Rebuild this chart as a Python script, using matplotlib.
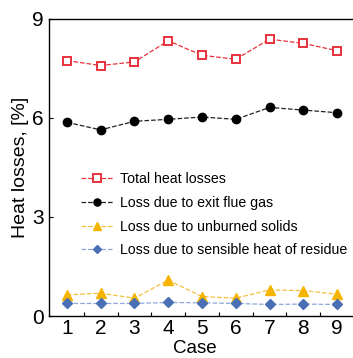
import numpy as np
import matplotlib
matplotlib.use("Agg")
import matplotlib.pyplot as plt
from matplotlib.ticker import FixedLocator

plt.rcParams['font.family'] = ['Liberation Sans', 'DejaVu Sans']

cases = [1, 2, 3, 4, 5, 6, 7, 8, 9]
total_loss = [7.74, 7.59, 7.70, 8.34, 7.90, 7.78, 8.39, 8.26, 8.04]
flue_gas_loss = [5.87, 5.64, 5.90, 5.96, 6.03, 5.96, 6.32, 6.24, 6.16]
unburned_loss = [0.64, 0.69, 0.54, 1.09, 0.59, 0.54, 0.79, 0.77, 0.66]
residue_loss = [0.38, 0.38, 0.38, 0.41, 0.40, 0.38, 0.35, 0.36, 0.35]

labels = ["Total heat losses", "Loss due to exit flue gas",
          "Loss due to unburned solids", "Loss due to sensible heat of residue"]

fig = plt.figure(figsize=(3.53, 3.58), dpi=100)
ax = fig.add_axes([49 / 353, 1 - 316 / 358, 1 - 49 / 353, (316 - 19) / 358])

ax.plot(cases, total_loss, ls='--', lw=0.9, color='#e8323c', marker='s', ms=6,
        mfc='white', mec='#e8323c', mew=1.4, label=labels[0])
ax.plot(cases, flue_gas_loss, ls='--', lw=0.9, color='#222222', marker='o', ms=6,
        mfc='black', mec='black', label=labels[1])
ax.plot(cases, unburned_loss, ls='--', lw=0.9, color='#f5c040', marker='^', ms=6.5,
        mfc='#f5b400', mec='#f5b400', label=labels[2])
ax.plot(cases, residue_loss, ls='--', lw=0.9, color='#8fa8d8', marker='D', ms=5,
        mfc='#4a6fb5', mec='#4a6fb5', label=labels[3])

ax.set_xlim(0.47, 9.47)
ax.set_ylim(0, 9)
ax.set_yticks([0, 3, 6, 9])
ax.set_xticks(cases)
ax.xaxis.set_minor_locator(FixedLocator(np.arange(1.5, 9.5, 1)))
ax.tick_params(axis='x', which='major', length=0, labelsize=15, pad=2)
ax.tick_params(axis='x', which='minor', direction='in', length=3, width=0.8)
ax.tick_params(axis='y', which='major', direction='in', length=3, width=0.8,
               labelsize=15, pad=4)
ax.spines['right'].set_visible(False)
for s in ['left', 'top', 'bottom']:
    ax.spines[s].set_linewidth(1.0)

ax.set_xlabel("Case", fontsize=13.5)
ax.xaxis.set_label_coords(0.5 - 0.02, -0.082)
ax.set_ylabel("Heat losses, [%]", fontsize=14, labelpad=2)

ax.legend(loc='upper left', bbox_to_anchor=(0.085, 0.505), frameon=False,
          fontsize=10.2, handlelength=2.3, handletextpad=0.5, labelspacing=0.7,
          borderaxespad=0, markerscale=0.85)

fig.savefig("out.png", dpi=100)
